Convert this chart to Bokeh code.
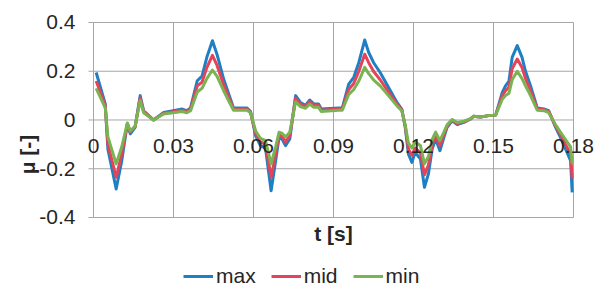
from bokeh.plotting import figure
from bokeh.models import Range1d, FixedTicker, Legend, LegendItem, CustomJSTickFormatter, Label
from bokeh.embed import file_html
from bokeh.resources import INLINE

# time [s]
t = [0.001, 0.0044, 0.0054, 0.0085, 0.0106, 0.0121, 0.0127, 0.0138, 0.0156, 0.0175,
     0.0188, 0.0225, 0.0263, 0.0333, 0.035, 0.0364, 0.0389, 0.0407, 0.0425, 0.0446,
     0.0463, 0.0488, 0.0525, 0.0576, 0.0589, 0.0608, 0.0626, 0.0645, 0.0666, 0.0683,
     0.0696, 0.0708, 0.072, 0.0736, 0.0758, 0.0776, 0.0795, 0.0811, 0.0826, 0.0844,
     0.0854, 0.092, 0.0933, 0.0957, 0.0976, 0.0995, 0.1017, 0.1032, 0.105, 0.1075,
     0.1106, 0.1138, 0.1156, 0.1169, 0.1181, 0.1194, 0.1206, 0.1226, 0.1241, 0.1256,
     0.127, 0.1283, 0.1299, 0.1314, 0.1326, 0.1345, 0.1364, 0.1389, 0.1414, 0.1425,
     0.1451, 0.1482, 0.1508, 0.1533, 0.1545, 0.1558, 0.157, 0.1589, 0.1607, 0.162,
     0.1639, 0.1664, 0.1689, 0.1707, 0.1733, 0.1751, 0.177, 0.1789, 0.1795]

mu_max = [0.195, 0.066, -0.12, -0.283, -0.167, -0.057, -0.016, -0.057, -0.03, 0.10,
          0.038, 0.0, 0.031, 0.045, 0.038, 0.05, 0.161, 0.18, 0.257, 0.325,
          0.27, 0.168, 0.049, 0.049, 0.035, -0.065, -0.105, -0.115, -0.29, -0.167,
          -0.07, -0.08, -0.105, -0.078, 0.10, 0.072, 0.06, 0.082, 0.066, 0.066,
          0.045, 0.049, 0.05, 0.147, 0.175, 0.236, 0.328, 0.277, 0.236, 0.195,
          0.134, 0.072, 0.045, -0.03, -0.14, -0.174, -0.133, -0.16, -0.276, -0.221,
          -0.119, -0.078, -0.126, -0.071, -0.03, -0.003, -0.019, -0.01, 0.004, 0.015,
          0.012, 0.018, 0.02, 0.113, 0.14, 0.16, 0.257, 0.305, 0.257, 0.2,
          0.14, 0.049, 0.045, 0.038, -0.03, -0.071, -0.119, -0.167, -0.297]

mu_mid = [0.16, 0.06, -0.10, -0.235, -0.14, -0.05, -0.015, -0.05, -0.028, 0.09,
          0.035, 0.0, 0.028, 0.04, 0.035, 0.045, 0.14, 0.155, 0.215, 0.265,
          0.225, 0.145, 0.045, 0.045, 0.03, -0.055, -0.09, -0.10, -0.235, -0.14,
          -0.06, -0.07, -0.09, -0.065, 0.09, 0.065, 0.055, 0.075, 0.06, 0.06,
          0.04, 0.045, 0.046, 0.125, 0.15, 0.2, 0.27, 0.235, 0.2, 0.165,
          0.115, 0.065, 0.042, -0.025, -0.12, -0.145, -0.115, -0.135, -0.225, -0.185,
          -0.1, -0.065, -0.105, -0.06, -0.025, 0.0, -0.015, -0.008, 0.005, 0.015,
          0.012, 0.018, 0.02, 0.1, 0.12, 0.135, 0.21, 0.25, 0.215, 0.17,
          0.12, 0.045, 0.042, 0.035, -0.025, -0.06, -0.1, -0.14, -0.24]

mu_min = [0.13, 0.05, -0.07, -0.18, -0.11, -0.04, -0.012, -0.045, -0.025, 0.08,
          0.03, 0.0, 0.025, 0.035, 0.03, 0.038, 0.115, 0.13, 0.17, 0.205,
          0.18, 0.12, 0.04, 0.04, 0.03, -0.045, -0.075, -0.085, -0.18, -0.11,
          -0.05, -0.055, -0.07, -0.05, 0.075, 0.055, 0.048, 0.065, 0.052, 0.052,
          0.035, 0.04, 0.04, 0.105, 0.125, 0.16, 0.216, 0.19, 0.165, 0.14,
          0.1, 0.058, 0.038, -0.02, -0.095, -0.115, -0.09, -0.105, -0.18, -0.15,
          -0.08, -0.05, -0.085, -0.05, -0.02, 0.002, -0.01, -0.005, 0.006, 0.015,
          0.012, 0.018, 0.02, 0.085, 0.1, 0.11, 0.165, 0.2, 0.17, 0.14,
          0.1, 0.04, 0.038, 0.03, -0.02, -0.05, -0.08, -0.11, -0.18]

x_ticks = [0, 0.03, 0.06, 0.09, 0.12, 0.15, 0.18]
y_ticks = [-0.4, -0.2, 0, 0.2, 0.4]
series_names = ["max", "mid", "min"]
series_colors = ["#1f7fc4", "#e3445a", "#7ab452"]

FONT = "Liberation Sans"
FS = "21px"
GRID = "#a6a6a6"
TXT = "#262626"
TICK_EXT = 0.001875  # 5 px of y-tick mark to the left of the box, in data units

# The frame reaches past the gridded box so that edge tick labels, the x title
# and the legend can sit inside it without being clipped.
p = figure(width=596, height=288,
           x_range=Range1d(-0.00225, 0.187875), y_range=Range1d(-0.6913, 0.4082),
           output_backend="svg", toolbar_location=None,
           min_border_left=87, min_border_right=2,
           min_border_top=20, min_border_bottom=0)
p.outline_line_color = None
p.grid.visible = False

fmt = CustomJSTickFormatter(code=r"return tick.toFixed(2).replace(/\.?0+$/, '');")

# gridded box, built from the tick lists
p.segment(x0=x_ticks, y0=[y_ticks[0]] * len(x_ticks), x1=x_ticks, y1=[y_ticks[-1]] * len(x_ticks),
          line_color=GRID, line_width=1, level="underlay")
p.segment(x0=[x_ticks[0] - TICK_EXT] * len(y_ticks), y0=y_ticks,
          x1=[x_ticks[-1]] * len(y_ticks), y1=y_ticks,
          line_color=GRID, line_width=1, level="underlay")

# y axis (bounded to the box so its title is centred on it)
ya = p.yaxis[0]
ya.bounds = (y_ticks[0], y_ticks[-1])
ya.ticker = FixedTicker(ticks=y_ticks)
ya.formatter = fmt
ya.axis_line_color = None
ya.major_tick_out = 0
ya.major_tick_in = 0
ya.major_tick_line_color = None
ya.minor_tick_line_color = None
ya.major_label_standoff = 12
ya.major_label_text_font = FONT
ya.major_label_text_font_size = FS
ya.major_label_text_color = TXT
ya.axis_label = "μ [-]"
ya.axis_label_text_font = FONT
ya.axis_label_text_font_size = FS
ya.axis_label_text_font_style = "bold"
ya.axis_label_text_color = TXT
ya.axis_label_standoff = -3

# x axis with tick labels just below y = 0
xa = p.xaxis[0]
xa.fixed_location = 0
xa.ticker = FixedTicker(ticks=x_ticks)
xa.formatter = fmt
xa.axis_line_color = None
xa.major_tick_out = 0
xa.major_tick_in = 0
xa.major_tick_line_color = None
xa.minor_tick_line_color = None
xa.major_label_standoff = 19
xa.major_label_text_font = FONT
xa.major_label_text_font_size = FS
xa.major_label_text_color = TXT

# x title centred under the box
p.add_layout(Label(x=(x_ticks[0] + x_ticks[-1]) / 2, y=y_ticks[0], y_offset=-5,
                   text="t [s]", text_align="center", text_baseline="top",
                   text_font=FONT, text_font_size=FS, text_font_style="bold",
                   text_color=TXT))

renderers = []
for ys, c in zip([mu_max, mu_mid, mu_min], series_colors):
    r = p.line(t, ys, line_color=c, line_width=3, line_join="round")
    renderers.append(r)

legend = Legend(items=[LegendItem(label=n, renderers=[r]) for n, r in zip(series_names, renderers)],
                orientation="horizontal", location=(96, 0))
legend.border_line_color = None
legend.background_fill_alpha = 0
legend.padding = 0
legend.margin = 0
legend.spacing = 15
legend.label_standoff = 3
legend.glyph_width = 30
legend.glyph_height = 20
legend.label_height = 20
legend.label_text_font = FONT
legend.label_text_font_size = FS
legend.label_text_color = TXT
p.add_layout(legend)

open("out.html", "w").write(file_html(p, INLINE))
